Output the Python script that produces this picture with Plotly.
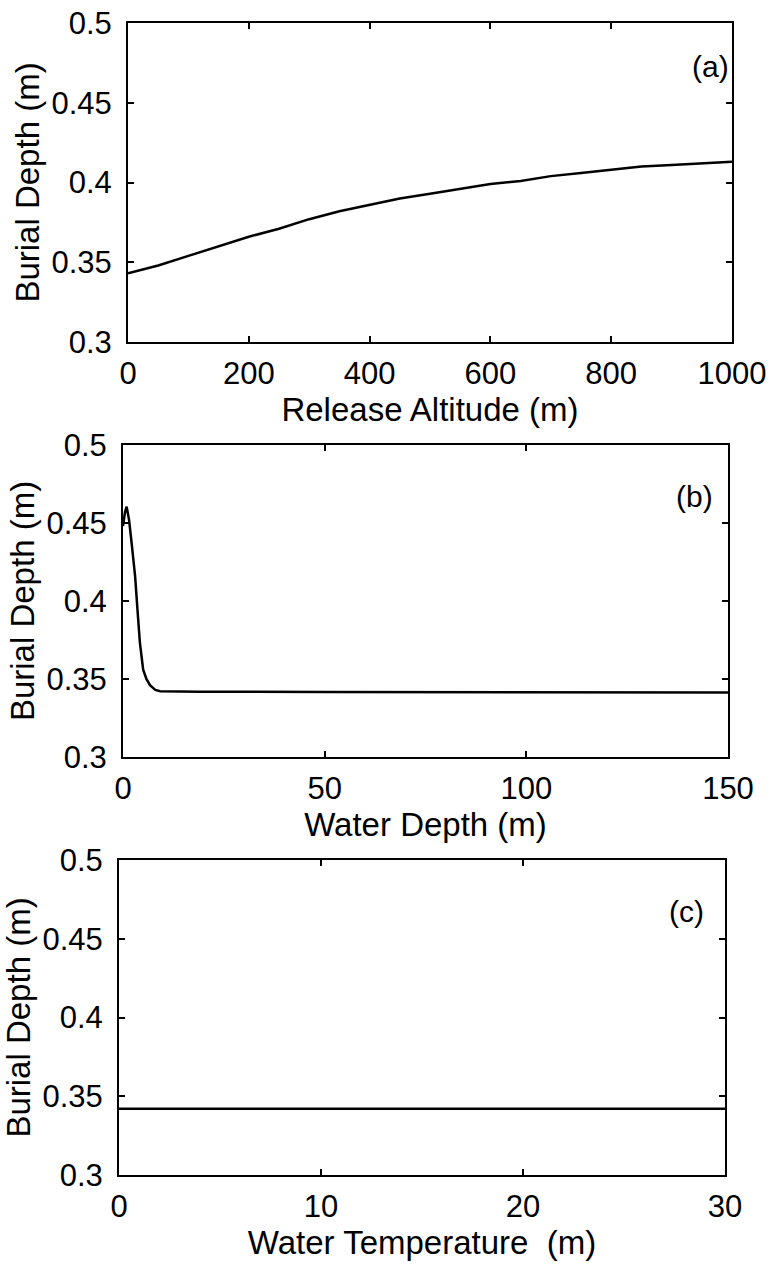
import plotly.graph_objects as go

# panel (a): burial depth vs release altitude
altitude = [0, 50, 100, 150, 200, 250, 300, 350, 400, 450, 500, 550, 600, 650, 700, 750, 800, 850, 900, 950, 1000]
depth_a = [0.343, 0.348, 0.354, 0.360, 0.366, 0.371, 0.377, 0.382, 0.386, 0.390, 0.393, 0.396, 0.399, 0.401, 0.404, 0.406, 0.408, 0.410, 0.411, 0.412, 0.413]

# panel (b): burial depth vs water depth
water_depth = [0, 0.5, 0.9, 1.5, 2.15, 3.0, 3.6, 4.2, 5.0, 5.8, 6.7, 8.0, 9.2, 12, 19, 50, 100, 150]
depth_b = [0.448, 0.457, 0.4605, 0.452, 0.437, 0.416, 0.394, 0.373, 0.356, 0.350, 0.346, 0.343, 0.3422, 0.342, 0.3418, 0.3417, 0.3415, 0.3413]

# panel (c): burial depth vs water temperature
water_temp = [0, 10, 20, 30]
depth_c = [0.342, 0.342, 0.342, 0.342]

y_ticks = [0.3, 0.35, 0.4, 0.45, 0.5]
y_labels = ["0.3", "0.35", "0.4", "0.45", "0.5"]
x_ticks_a = [0, 200, 400, 600, 800, 1000]
x_ticks_b = [0, 50, 100, 150]
x_ticks_c = [0, 10, 20, 30]

W, H = 771, 1264
font = "Liberation Sans, Arial, sans-serif"

fig = go.Figure()
line = dict(color="black", width=2.5)
fig.add_trace(go.Scatter(x=altitude, y=depth_a, mode="lines", line=line, xaxis="x", yaxis="y"))
fig.add_trace(go.Scatter(x=water_depth, y=depth_b, mode="lines", line=line, xaxis="x2", yaxis="y2"))
fig.add_trace(go.Scatter(x=water_temp, y=depth_c, mode="lines", line=line, xaxis="x3", yaxis="y3"))

# panel boxes in page pixels (left, right, top, bottom)
boxes = [(128, 732, 23, 342), (123, 728, 445, 757), (119, 725, 860, 1175)]
x_titles = ["Release Altitude (m)", "Water Depth (m)", "Water Temperature  (m)"]
x_ranges = [[0, 1000], [0, 150], [0, 30]]
x_ticks = [x_ticks_a, x_ticks_b, x_ticks_c]
tags = ["(a)", "(b)", "(c)"]
tag_x = [964, 141.6, 28.1]
tag_y = [0.473, 0.467, 0.467]

axis_common = dict(
    showline=True, linecolor="black", linewidth=2, mirror="ticks",
    ticks="inside", ticklen=6, tickwidth=1.5, tickcolor="black",
    showgrid=False, zeroline=False,
    tickfont=dict(family=font, size=31, color="black"),
    ticklabeloverflow="allow",
    automargin=False,
)
title_font = dict(family=font, size=33, color="black")

layout = {}
for i, (l, r, t, b) in enumerate(boxes):
    sfx = "" if i == 0 else str(i + 1)
    layout["xaxis" + sfx] = dict(
        axis_common,
        domain=[l / W, r / W],
        anchor="y" + sfx,
        range=x_ranges[i],
        tickvals=x_ticks[i],
        ticktext=[str(v) for v in x_ticks[i]],
        ticklabelstandoff=3,
        title=dict(text=x_titles[i], font=title_font, standoff=8),
    )
    layout["yaxis" + sfx] = dict(
        axis_common,
        domain=[1 - b / H, 1 - t / H],
        anchor="x" + sfx,
        range=[0.3, 0.5],
        tickvals=y_ticks,
        ticktext=y_labels,
        ticklabelstandoff=8,
        title=dict(text="Burial Depth (m)", font=title_font, standoff=2),
    )

annotations = []
for i, tag in enumerate(tags):
    sfx = "" if i == 0 else str(i + 1)
    annotations.append(dict(
        text=tag, x=tag_x[i], y=tag_y[i], xref="x" + sfx, yref="y" + sfx,
        showarrow=False, font=dict(family=font, size=30, color="black"),
    ))

fig.update_layout(
    width=W, height=H,
    margin=dict(l=0, r=0, t=0, b=0),
    paper_bgcolor="white", plot_bgcolor="white",
    showlegend=False,
    annotations=annotations,
    **layout,
)

# drop the default 8px body margin so the figure fills the window; no modebar
fig.write_html(
    "out.html",
    config={"displayModeBar": False},
    post_script="document.body.style.margin = '0px';",
)
